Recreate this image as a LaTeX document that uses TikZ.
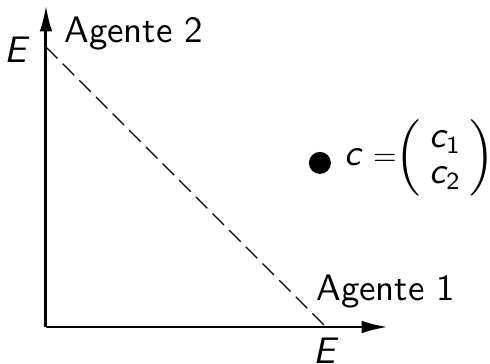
\documentclass[tikz,border=0pt]{standalone}
\usepackage{amsmath}
\usetikzlibrary{positioning,arrows.meta}
\newcommand{\sfvar}[1]{\text{\sffamily\itshape #1}}

\begin{document}
\begin{tikzpicture}[scale=0.3, font=\sffamily\fontsize{10.5}{12}\selectfont,
    axis/.style={line width=0.85pt, -{Latex[length=7.5pt,width=3.6pt]}},
    budget/.style={line width=0.35pt, dash pattern=on 4.6pt off 2.1pt},
    paren/.style={inner sep=0pt, scale=1.1}]
    \useasboundingbox (-1.533,-1.2) rectangle (14.8,10.9);

    \coordinate (O) at (0,0);
    \coordinate (X) at (11.4,0);
    \coordinate (Y) at (0,10.73);
    \coordinate (E2) at (0,9.33);
    \coordinate (E1) at (9.33,0);

    \draw [axis] (O)--(X);
    \draw [axis] (O)--(Y);
    \draw [budget] (E2)--(E1);

    \node (e2) at (-1.03,9.23) {$\sfvar{E}$};
    \node (e1) at (9.3,-0.8) {$\sfvar{E}$};
    \node (ag2) at (2.93,9.8) {Agente 2};
    \node (ag1) at (11.33,1.17) {Agente 1};

    % the bundle c and its components
    \node (c) [circle, fill=black, inner sep=0pt, minimum size=2.2mm] at (9.13,5.47) {};
    \node (cc) [anchor=base west, inner sep=0pt] at (9.93,5.4) {$\sfvar{c}$};
    \node (eq) [inner sep=0pt, font=\fontsize{10}{12}\selectfont, scale=0.86] at (11.3,5.57) {$=$};
    \node (lpar) [paren] at (12.07,5.65) {$\Bigl($};
    \node (c1) [anchor=base, inner sep=0pt] at (13.32,5.97) {$\sfvar{c}_{\mathsf{1}}$};
    \node (c2) [anchor=base, inner sep=0pt] at (13.32,4.77) {$\sfvar{c}_{\mathsf{2}}$};
    \node (rpar) [paren] at (14.55,5.65) {$\Bigr)$};
\end{tikzpicture}
\end{document}
